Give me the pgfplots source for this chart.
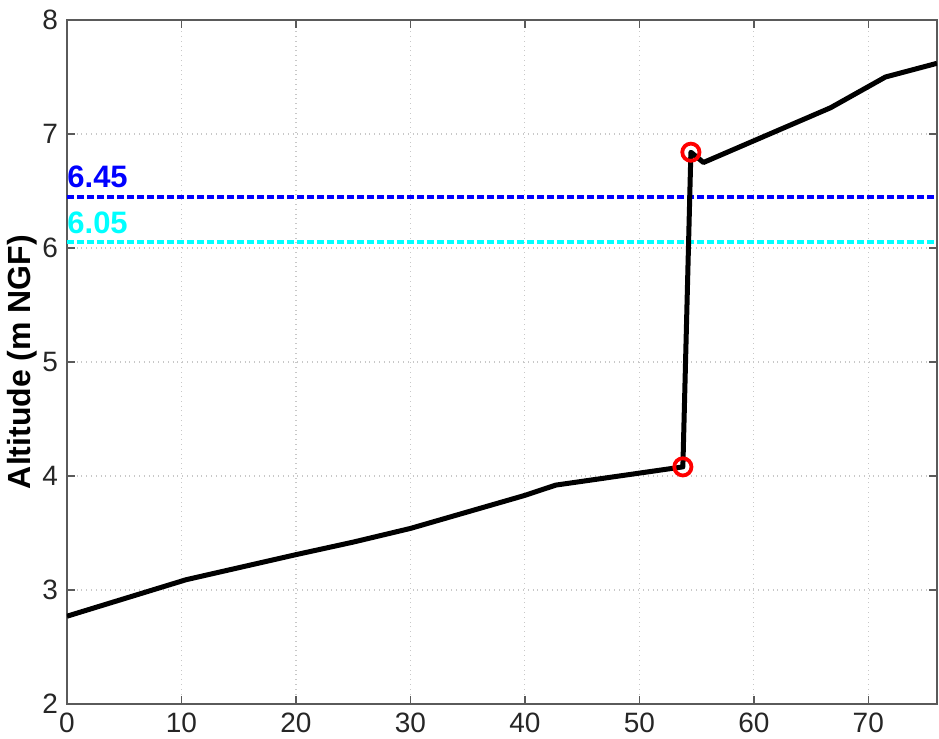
\documentclass[border=0pt]{standalone}
\usepackage{fontspec}
\setmainfont{Liberation Sans}
\usepackage{pgfplots}
\pgfplotsset{compat=1.18}
\definecolor{axgray}{RGB}{90,90,90}
\definecolor{gridgray}{RGB}{200,200,200}
\definecolor{purecyan}{RGB}{0,255,255}
\definecolor{pureblue}{RGB}{0,0,255}
\definecolor{purered}{RGB}{255,0,0}
\begin{document}
\begin{tikzpicture}
\begin{axis}[
  name=ax,
  scale only axis,
  width=435pt, height=342pt,
  xmin=0, xmax=76, ymin=2, ymax=8,
  xtick={0,10,...,70}, ytick={2,3,...,8},
  grid=major,
  major grid style={gridgray, dotted, line width=0.6pt},
  axis line style={axgray, line width=0.8pt},
  tick style={axgray, line width=0.8pt},
  tick align=inside,
  major tick length=4pt,
  xtick pos=both, ytick pos=both,
  /pgf/number format/assume math mode=true,
  tick label style={font=\fontsize{14}{16}\selectfont, text=black!85},
  yticklabel style={xshift=-1pt},
  xticklabel style={yshift=-1pt},
  ylabel={Altitude (m NGF)},
  ylabel style={font=\fontsize{16}{19}\selectfont\bfseries, at={(axis description cs:-0.0517,0.5)}, anchor=center},
]
\addplot[pureblue, dash pattern=on 3.5pt off 1.5pt, line width=2pt] coordinates {(0,6.45) (76,6.45)};
\addplot[purecyan, dash pattern=on 3.5pt off 1.5pt, line width=2pt] coordinates {(0,6.05) (76,6.05)};
\addplot[black, line width=2.5pt, line join=round] coordinates {
 (0,2.77) (10.4,3.09) (20,3.31) (25,3.42) (30,3.54) (40,3.83) (42.7,3.92) (53.8,4.08)
 (54.5,6.84) (55.6,6.75) (66.7,7.23) (71.5,7.50) (76,7.62)
};
\addplot[purered, only marks, mark=o, mark size=4.3pt, mark options={line width=1.9pt}] coordinates {(53.8,4.08) (54.5,6.84)};
\node[anchor=south west, inner sep=0pt, text=pureblue, font=\fontsize{15.5}{18}\selectfont\bfseries, yshift=4pt] at (axis cs:0,6.45) {6.45};
\node[anchor=south west, inner sep=0pt, text=purecyan, font=\fontsize{15.5}{18}\selectfont\bfseries, yshift=4pt] at (axis cs:0,6.05) {6.05};
\end{axis}
\pgfresetboundingbox
\path ([xshift=-33.5pt,yshift=-17.5pt]ax.south west) rectangle ([xshift=1pt,yshift=10pt]ax.north east);
\end{tikzpicture}
\end{document}
